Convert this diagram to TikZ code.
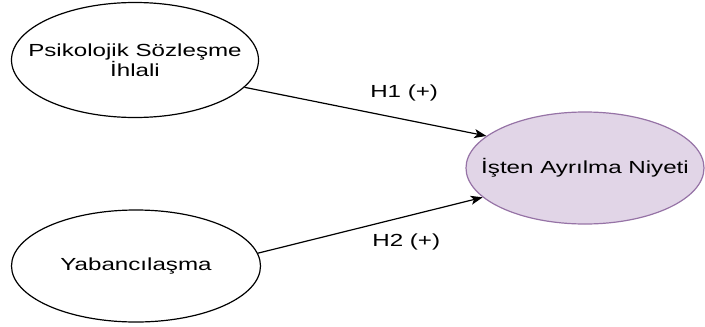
\documentclass[tikz,border=0pt]{standalone}
\usepackage{fontspec}
\newfontfamily\wideSans[FakeStretch=1.38]{Liberation Sans}
\usepackage{tikz}
\usepackage{xcolor}
\usetikzlibrary{shapes.geometric,arrows.meta}
\definecolor{lilac}{HTML}{E1D5E7}
\definecolor{lilacline}{HTML}{9673A6}

\begin{document}
\begin{tikzpicture}
  [x=1pt,y=-1pt,line width=1.2pt,
   every node/.style={font=\wideSans\fontsize{17.5}{20}\selectfont,align=center},
   construct/.style={ellipse,draw=black,inner xsep=-30pt,inner ysep=0pt},
   outcome/.style={construct,fill=lilac,draw=lilacline},
   link/.style={-{Stealth[length=12pt,width=9pt,inset=3pt]}}]
  \useasboundingbox (0,0) rectangle (705,327);
  \node[construct,minimum width=247pt,minimum height=115pt] (n1) at (135,60) {Psikolojik Sözleşme\\İhlali};
  \node[construct,minimum width=249pt,minimum height=112pt] (n2) at (136,266) {Yabancılaşma};
  \node[outcome,minimum width=238pt,minimum height=112pt] (n3) at (585,168) {İşten Ayrılma Niyeti};
\foreach \from/\to/\lab/\shift in {n1.-14/n3.162/H1/26pt,n2.6/n3.196/H2/-26pt}
    \draw[link] (\from) -- node[pos=.66,yshift=\shift] (\lab) {\lab{} (+)} (\to);

\end{tikzpicture}
\end{document}
